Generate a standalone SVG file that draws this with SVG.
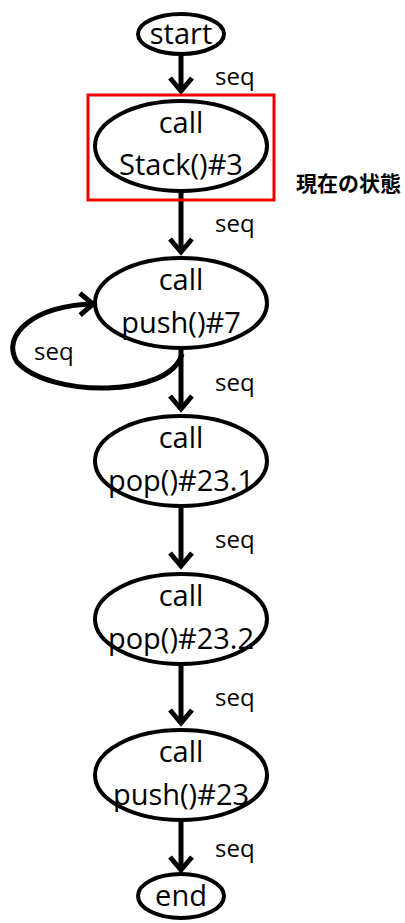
<svg xmlns="http://www.w3.org/2000/svg" width="405" height="923" viewBox="0 0 405 923">
<style>
.n{fill:#fff;stroke:#000;stroke-width:4}
.t{font-family:"Open Sans","Liberation Sans",sans-serif;font-size:29px;fill:#000;text-anchor:middle}
.s{font-family:"Open Sans","Liberation Sans",sans-serif;font-size:24px;fill:#000}
.e{fill:none;stroke:#000;stroke-width:5}
</style>
<defs>
<marker id="ah" markerUnits="userSpaceOnUse" markerWidth="40" markerHeight="40" viewBox="-20 -20 40 40" refX="0" refY="0" orient="auto" overflow="visible">
<path d="M-13,-11 L0,0 L-13,11" fill="none" stroke="#000" stroke-width="5" stroke-linejoin="miter"/>
</marker>
</defs>
<g id="edges">
<path class="e" d="M181,55 V91" marker-end="url(#ah)"/>
<path class="e" d="M181,191 V252" marker-end="url(#ah)"/>
<path class="e" d="M181,349 V409" marker-end="url(#ah)"/>
<path class="e" d="M181,507 V566" marker-end="url(#ah)"/>
<path class="e" d="M181,665 V723" marker-end="url(#ah)"/>
<path class="e" d="M181,820 V870" marker-end="url(#ah)"/>
<path class="e" d="M182,354 C170,398 50,398 17,362 C0,335 35,305 93,304" marker-end="url(#ah)"/>
<text class="s" x="215" y="85">seq</text>
<text class="s" x="215" y="232">seq</text>
<text class="s" x="215" y="391">seq</text>
<text class="s" x="215" y="548">seq</text>
<text class="s" x="215" y="706">seq</text>
<text class="s" x="215" y="857">seq</text>
<text class="s" x="34" y="360">seq</text>
</g>
<g id="start"><ellipse class="n" cx="181" cy="34" rx="43" ry="20"/><text class="t" x="181" y="44">start</text></g>
<g id="stack"><ellipse class="n" cx="181" cy="146" rx="86" ry="45"/><text class="t" x="181" y="133">call</text><text class="t" x="181" y="175">Stack()#3</text></g>
<g id="current"><rect x="88" y="95" width="186" height="105" fill="none" stroke="#e00" stroke-width="3"/><text x="296" y="191" font-family="'Noto Sans CJK JP',sans-serif" font-weight="bold" font-size="21">現在の状態</text></g>
<g id="push7"><ellipse class="n" cx="181" cy="303" rx="86" ry="45"/><text class="t" x="181" y="290">call</text><text class="t" x="181" y="333">push()#7</text></g>
<g id="pop1"><ellipse class="n" cx="181" cy="461" rx="86" ry="45"/><text class="t" x="181" y="448">call</text><text class="t" x="181" y="491">pop()#23.1</text></g>
<g id="pop2"><ellipse class="n" cx="181" cy="619" rx="86" ry="45"/><text class="t" x="181" y="606">call</text><text class="t" x="181" y="649">pop()#23.2</text></g>
<g id="push23"><ellipse class="n" cx="181" cy="775" rx="86" ry="45"/><text class="t" x="181" y="762">call</text><text class="t" x="181" y="805">push()#23</text></g>
<g id="end"><ellipse class="n" cx="181" cy="896" rx="43" ry="22"/><text class="t" x="181" y="906">end</text></g>
</svg>
